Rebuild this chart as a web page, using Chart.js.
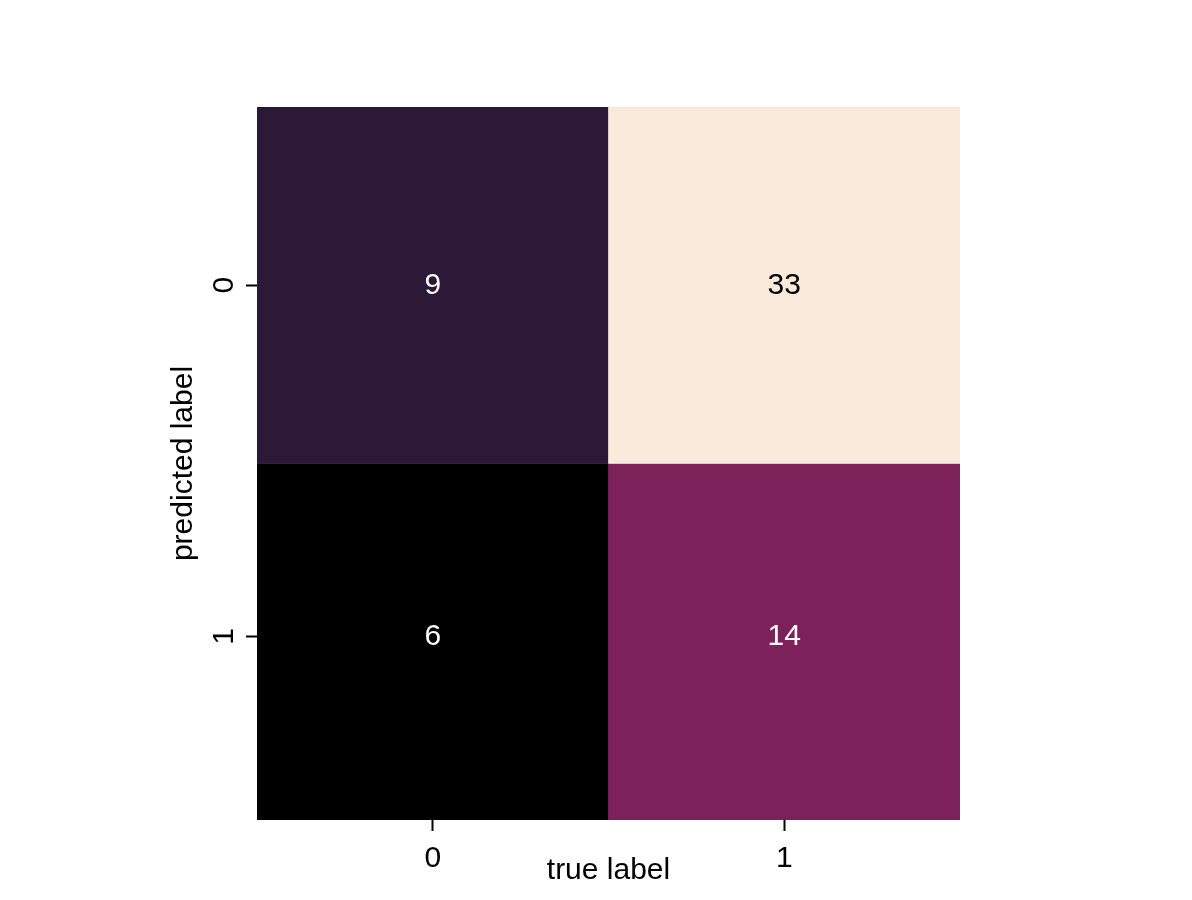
<!DOCTYPE html>
<html>
<head>
<meta charset="utf-8">
<script src="https://cdn.jsdelivr.net/npm/chart.js@4/dist/chart.umd.min.js"></script>
<style>
  html, body { margin: 0; padding: 0; background: #ffffff; }
  #wrap { width: 1192px; height: 900px; position: relative; }
</style>
</head>
<body>
<div id="wrap"><canvas id="c" width="1192" height="900"></canvas></div>
<script>
// ---- data ----
const trueLabels = ['0', '1'];        // x categories (columns)
const predictedLabels = ['0', '1'];   // y categories (rows)
const yTickValues = [0.5, 1.485];     // y positions of row ticks / annotations (as in reference)
const row0 = [9, 33];                 // predicted 0
const row1 = [6, 14];                 // predicted 1
const xTitle = 'true label';
const yTitle = 'predicted label';

// ---- colormap (rocket-like) ----
const stops = [
  [0.000, [0, 0, 0]],
  [0.111, [44, 25, 56]],
  [0.296, [125, 33, 90]],
  [0.500, [203, 27, 79]],
  [0.750, [245, 133, 95]],
  [1.000, [250, 234, 220]]
];
const allVals = row0.concat(row1);
const vmin = Math.min(...allVals), vmax = Math.max(...allVals);
function cmap(v) {
  const t = (v - vmin) / (vmax - vmin);
  for (let i = 1; i < stops.length; i++) {
    if (t <= stops[i][0]) {
      const [t0, c0] = stops[i - 1], [t1, c1] = stops[i];
      const f = (t - t0) / (t1 - t0);
      return c0.map((a, k) => Math.round(a + (c1[k] - a) * f));
    }
  }
  return stops[stops.length - 1][1];
}
const rgb = c => `rgb(${c[0]},${c[1]},${c[2]})`;
function textColorFor(c) {
  const lin = x => { x /= 255; return x <= 0.03928 ? x / 12.92 : Math.pow((x + 0.055) / 1.055, 2.4); };
  const L = 0.2126 * lin(c[0]) + 0.7152 * lin(c[1]) + 0.0722 * lin(c[2]);
  return L > 0.408 ? '#000000' : '#ffffff';
}

const rows = [row0, row1];
const FONT = "'Liberation Sans', Arial, sans-serif";
const FS = 30;

const datasets = rows.map((vals, r) => ({
  label: predictedLabels[r],
  data: vals.map(() => [r, r + 1]),
  values: vals,
  row: r,
  backgroundColor: vals.map(v => rgb(cmap(v))),
  borderWidth: 0,
  grouped: false,
  barPercentage: 1.0,
  categoryPercentage: 1.0
}));

const annotate = {
  id: 'annotate',
  afterDatasetsDraw(chart) {
    const ctx = chart.ctx;
    const ys = chart.scales.y;
    ctx.save();
    ctx.font = `${FS}px ${FONT}`;
    ctx.textAlign = 'center';
    ctx.textBaseline = 'middle';
    chart.data.datasets.forEach((ds, di) => {
      const meta = chart.getDatasetMeta(di);
      const py = ys.getPixelForValue(yTickValues[ds.row]);
      meta.data.forEach((el, i) => {
        const v = ds.values[i];
        ctx.fillStyle = textColorFor(cmap(v));
        ctx.fillText(String(v), el.x, py);
      });
    });
    ctx.restore();
  }
};

new Chart(document.getElementById('c'), {
  type: 'bar',
  data: { labels: trueLabels, datasets },
  options: {
    responsive: false,
    animation: false,
    layout: { padding: { left: 165.6, top: 107, right: 232, bottom: 11.4 } },
    plugins: { legend: { display: false }, tooltip: { enabled: false } },
    scales: {
      x: {
        type: 'category',
        offset: true,
        grid: { display: true, drawOnChartArea: false, drawTicks: true, offset: false,
                tickLength: 11, tickWidth: 2, tickColor: '#000000' },
        border: { display: false },
        ticks: { color: '#000000', padding: 10, font: { family: FONT, size: FS } },
        title: { display: true, text: xTitle, color: '#000000', padding: 0,
                 font: { family: FONT, size: FS } },
        afterFit(scale) { scale.height = 68.6; }
      },
      y: {
        type: 'linear',
        min: 0, max: 2,
        reverse: true,
        afterBuildTicks(scale) {
          scale.ticks = yTickValues.map(v => ({ value: v }));
        },
        grid: { display: true, drawOnChartArea: false, drawTicks: true,
                tickLength: 11, tickWidth: 2, tickColor: '#000000' },
        border: { display: false },
        ticks: {
          color: '#000000', padding: 13, minRotation: 90, maxRotation: 90,
          crossAlign: 'center', autoSkip: false,
          font: { family: FONT, size: FS },
          callback: (v, i) => predictedLabels[i]
        },
        title: { display: true, text: yTitle, color: '#000000', padding: 0,
                 font: { family: FONT, size: FS } },
        afterFit(scale) { scale.width = 91.4; }
      }
    }
  },
  plugins: [annotate]
});
</script>
</body>
</html>
